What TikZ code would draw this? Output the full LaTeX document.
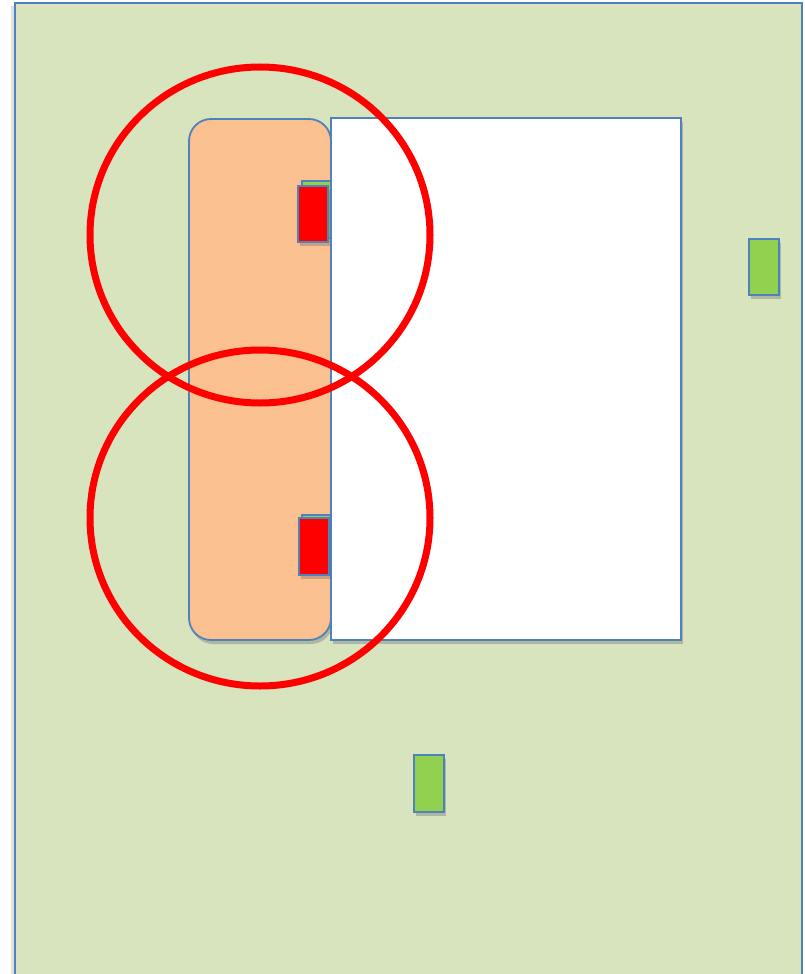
\documentclass[tikz,border=0pt]{standalone}
\usetikzlibrary{shadows}
\definecolor{bggreen}{HTML}{D7E4BD}
\definecolor{peach}{HTML}{FAC090}
\definecolor{edgeblue}{HTML}{4F81BD}
\definecolor{leaf}{HTML}{92D050}
\begin{document}
\begin{tikzpicture}[x=1pt,y=-1pt,
  box/.style={draw=edgeblue,line width=1.8pt},
  shad/.style={drop shadow={shadow xshift=2pt,shadow yshift=-4pt,opacity=0.35,fill=black!60}},
  ring/.style={draw=red,line width=7pt}]
\useasboundingbox (0,0) rectangle (804,974);
\fill[white] (0,0) rectangle (804,974);
% background panel
\fill[black!12] (11,6) rectangle (15,980);
\draw[box,fill=bggreen] (15,3) rectangle (802,990);
% rounded strip
\draw[box,fill=peach,rounded corners=22pt,shad] (189,119) rectangle (331,640);
% white area
\draw[box,fill=white,shad] (331,118) rectangle (681,640);
% small connectors upper
\draw[box,fill=leaf] (302,181) rectangle (331,238);
\draw[box,fill=red,shad] (298,186) rectangle (328,242);
% lower
\draw[box,fill=leaf] (302,515) rectangle (331,572);
\draw[box,fill=red,shad] (299,518) rectangle (329,575);
% green boxes
\draw[box,fill=leaf,shad] (749,239) rectangle (779,295);
\draw[box,fill=leaf,shad] (414,755) rectangle (444,812);
% circles
\draw[ring] (260,235) ellipse (170 and 168);
\draw[ring] (260,518) ellipse (170 and 168);
\end{tikzpicture}
\end{document}
